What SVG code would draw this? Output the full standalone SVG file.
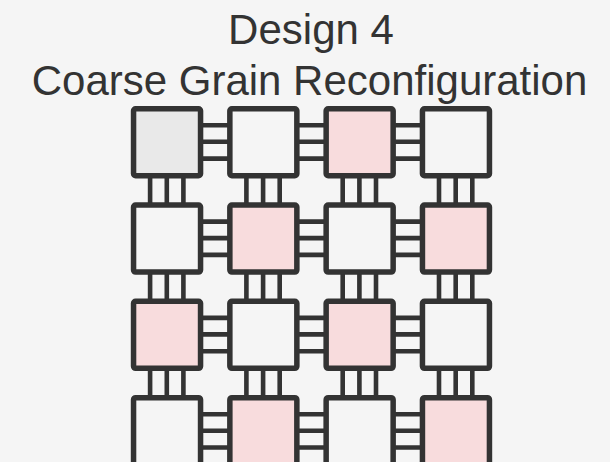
<svg xmlns="http://www.w3.org/2000/svg" width="610" height="462" viewBox="0 0 610 462">
<style>
.title{font-family:"Liberation Sans",Arial,sans-serif;font-size:42px;fill:#333333;text-anchor:middle}
.box{stroke:#333333;stroke-width:5.5;fill:#f5f5f5}
.gray{fill:#e9e9e9}
.pink{fill:#f8dcdd}
.conn{stroke:#333333;stroke-width:4.6;fill:none}
</style>
<rect width="610" height="462" fill="#f5f5f5"/>
<text class="title" x="311" y="44">Design 4</text>
<text class="title" x="309.5" y="95">Coarse Grain Reconfiguration</text>
<g id="connectors">
<path class="conn" d="M202 125.3H228.5M202 141.8H228.5M202 158.6H228.5"/>
<path class="conn" d="M298.3 125.3H324.7M298.3 141.8H324.7M298.3 158.6H324.7"/>
<path class="conn" d="M394.6 125.3H421M394.6 141.8H421M394.6 158.6H421"/>
<path class="conn" d="M202 221.6H228.5M202 238.1H228.5M202 254.9H228.5"/>
<path class="conn" d="M298.3 221.6H324.7M298.3 238.1H324.7M298.3 254.9H324.7"/>
<path class="conn" d="M394.6 221.6H421M394.6 238.1H421M394.6 254.9H421"/>
<path class="conn" d="M202 317.9H228.5M202 334.4H228.5M202 351.2H228.5"/>
<path class="conn" d="M298.3 317.9H324.7M298.3 334.4H324.7M298.3 351.2H324.7"/>
<path class="conn" d="M394.6 317.9H421M394.6 334.4H421M394.6 351.2H421"/>
<path class="conn" d="M202 414.2H228.5M202 430.7H228.5M202 447.5H228.5"/>
<path class="conn" d="M298.3 414.2H324.7M298.3 430.7H324.7M298.3 447.5H324.7"/>
<path class="conn" d="M394.6 414.2H421M394.6 430.7H421M394.6 447.5H421"/>
<path class="conn" d="M150.1 177.2V203.6M166.8 177.2V203.6M183.4 177.2V203.6"/>
<path class="conn" d="M246.4 177.2V203.6M263.1 177.2V203.6M279.7 177.2V203.6"/>
<path class="conn" d="M342.7 177.2V203.6M359.4 177.2V203.6M376 177.2V203.6"/>
<path class="conn" d="M439 177.2V203.6M455.7 177.2V203.6M472.3 177.2V203.6"/>
<path class="conn" d="M150.1 273.5V299.9M166.8 273.5V299.9M183.4 273.5V299.9"/>
<path class="conn" d="M246.4 273.5V299.9M263.1 273.5V299.9M279.7 273.5V299.9"/>
<path class="conn" d="M342.7 273.5V299.9M359.4 273.5V299.9M376 273.5V299.9"/>
<path class="conn" d="M439 273.5V299.9M455.7 273.5V299.9M472.3 273.5V299.9"/>
<path class="conn" d="M150.1 369.8V396.2M166.8 369.8V396.2M183.4 369.8V396.2"/>
<path class="conn" d="M246.4 369.8V396.2M263.1 369.8V396.2M279.7 369.8V396.2"/>
<path class="conn" d="M342.7 369.8V396.2M359.4 369.8V396.2M376 369.8V396.2"/>
<path class="conn" d="M439 369.8V396.2M455.7 369.8V396.2M472.3 369.8V396.2"/>
</g>
<g id="n00"><rect class="box gray" x="133.55" y="108.75" width="67" height="67" rx="2"/></g>
<g id="n01"><rect class="box" x="229.85" y="108.75" width="67" height="67" rx="2"/></g>
<g id="n02"><rect class="box pink" x="326.15" y="108.75" width="67" height="67" rx="2"/></g>
<g id="n03"><rect class="box" x="422.45" y="108.75" width="67" height="67" rx="2"/></g>
<g id="n10"><rect class="box" x="133.55" y="205.05" width="67" height="67" rx="2"/></g>
<g id="n11"><rect class="box pink" x="229.85" y="205.05" width="67" height="67" rx="2"/></g>
<g id="n12"><rect class="box" x="326.15" y="205.05" width="67" height="67" rx="2"/></g>
<g id="n13"><rect class="box pink" x="422.45" y="205.05" width="67" height="67" rx="2"/></g>
<g id="n20"><rect class="box pink" x="133.55" y="301.35" width="67" height="67" rx="2"/></g>
<g id="n21"><rect class="box" x="229.85" y="301.35" width="67" height="67" rx="2"/></g>
<g id="n22"><rect class="box pink" x="326.15" y="301.35" width="67" height="67" rx="2"/></g>
<g id="n23"><rect class="box" x="422.45" y="301.35" width="67" height="67" rx="2"/></g>
<g id="n30"><rect class="box" x="133.55" y="397.65" width="67" height="67" rx="2"/></g>
<g id="n31"><rect class="box pink" x="229.85" y="397.65" width="67" height="67" rx="2"/></g>
<g id="n32"><rect class="box" x="326.15" y="397.65" width="67" height="67" rx="2"/></g>
<g id="n33"><rect class="box pink" x="422.45" y="397.65" width="67" height="67" rx="2"/></g>
</svg>
